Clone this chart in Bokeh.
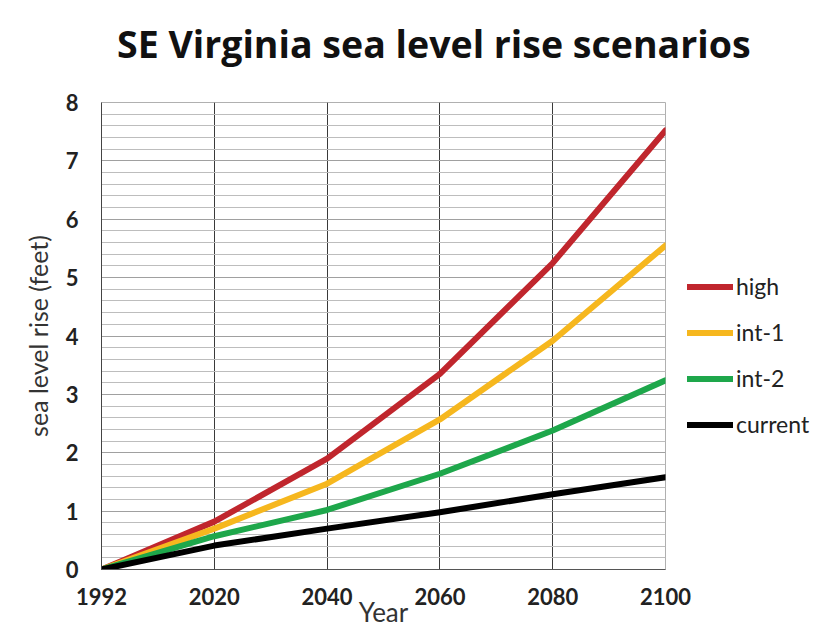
from bokeh.plotting import figure
from bokeh.models import (Legend, LegendItem, FixedTicker, SingleIntervalTicker, Range1d, Div)
from bokeh.layouts import column
from bokeh.embed import file_html
from bokeh.resources import INLINE

title_text = "SE Virginia sea level rise scenarios"
years = ["1992", "2020", "2040", "2060", "2080", "2100"]
high = [0.0, 0.82, 1.9, 3.35, 5.25, 7.52]
int1 = [0.0, 0.7, 1.47, 2.57, 3.92, 5.55]
int2 = [0.0, 0.57, 1.02, 1.64, 2.38, 3.24]
current = [0.0, 0.41, 0.7, 0.98, 1.29, 1.58]

series_names = ["high", "int-1", "int-2", "current"]
series_vals = [high, int1, int2, current]
series_colors = ["#c0262d", "#f6b71e", "#1ea74b", "#000000"]

FONT = "Lato"

header = Div(
    text=('<div style="margin:0;padding:25px 0 0 117px;white-space:nowrap;'
          'font-family:\'Open Sans\';font-weight:bold;font-size:37.5px;line-height:1;'
          'color:#111111;">' + title_text + '</div>'),
    width=825, height=80, margin=0)

p = figure(frame_width=564, frame_height=467, output_backend="svg", toolbar_location=None,
           x_range=Range1d(0, len(years) - 1), y_range=Range1d(0, 8),
           min_border_left=101, min_border_right=10, min_border_top=22, min_border_bottom=57,
           margin=0)
p.background_fill_color = "white"
p.border_fill_color = "white"
p.outline_line_color = "#b0b0b0"

xs = list(range(len(years)))

# axes
p.xaxis.ticker = FixedTicker(ticks=xs)
p.xaxis.major_label_overrides = {i: y for i, y in enumerate(years)}
p.yaxis.ticker = SingleIntervalTicker(interval=1, num_minor_ticks=5)

for ax in (p.xaxis[0], p.yaxis[0]):
    ax.major_tick_line_color = None
    ax.minor_tick_line_color = None
    ax.major_label_text_font = FONT
    ax.major_label_text_font_style = "bold"
    ax.major_label_text_font_size = "22px"
    ax.major_label_text_color = "#222222"
    ax.axis_label_text_font = FONT
    ax.axis_label_text_font_style = "normal"
    ax.axis_label_text_color = "#333333"

p.xaxis.axis_label_text_font_size = "26px"
p.yaxis.axis_label_text_font_size = "25px"
p.xaxis.axis_line_color = "#555555"
p.yaxis.axis_line_color = "#444444"
p.xaxis.major_label_standoff = 12
p.yaxis.major_label_standoff = 17
p.xaxis.axis_label = "Year"
p.xaxis.axis_label_standoff = -12
p.yaxis.axis_label = "sea level rise (feet)"
p.yaxis.axis_label_standoff = 10

# grid
p.xgrid.grid_line_color = "#3a3a3a"
p.xgrid.grid_line_width = 1
p.ygrid.grid_line_color = "#a0a0a0"
p.ygrid.grid_line_width = 1
p.ygrid.minor_grid_line_color = "#bdbdbd"
p.ygrid.minor_grid_line_width = 1

items = []
for name, vals, col in zip(series_names, series_vals, series_colors):
    r = p.line(xs, vals, line_color=col, line_width=6, line_join="round", line_cap="round")
    items.append(LegendItem(label=name, renderers=[r]))

legend = Legend(items=items, location=(22, 131), orientation="vertical",
                glyph_width=46, glyph_height=23, label_height=23, spacing=18,
                label_standoff=3, padding=0, margin=0,
                label_text_font=FONT, label_text_font_size="23px", label_text_color="#222222",
                border_line_color=None, background_fill_alpha=0)
p.add_layout(legend, "right")

layout = column(header, p, spacing=0, margin=0)

open("out.html", "w").write(file_html(layout, INLINE))
